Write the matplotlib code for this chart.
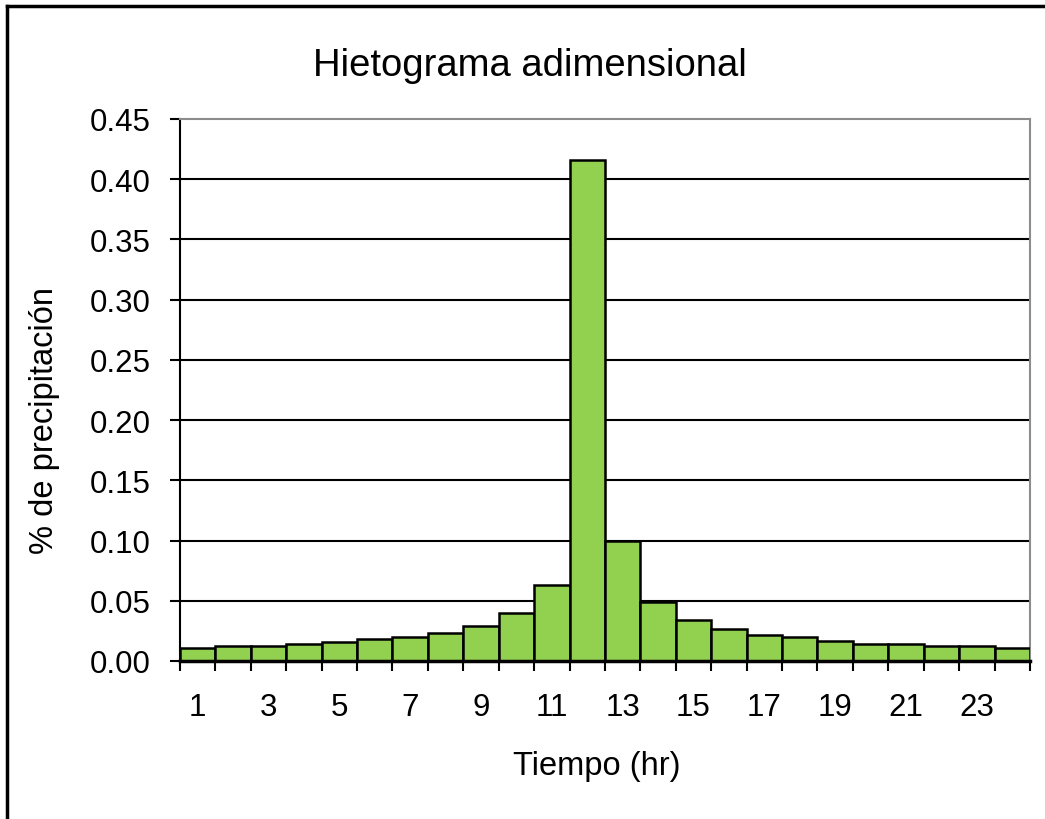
import numpy as np
import matplotlib
matplotlib.use("Agg")
import matplotlib.pyplot as plt
from matplotlib.lines import Line2D

plt.rcParams['font.family'] = ['Liberation Sans', 'DejaVu Sans']

# datos del hietograma (fraccion de la precipitacion por hora)
horas = list(range(1, 25))
precip = [0.0104, 0.0121, 0.0121, 0.0140, 0.0159, 0.0179, 0.0195, 0.0230,
          0.0288, 0.0398, 0.0634, 0.4160, 0.0996, 0.0490, 0.0343, 0.0269,
          0.0214, 0.0195, 0.0162, 0.0140, 0.0140, 0.0121, 0.0121, 0.0104]
etiquetas_x = [str(h) for h in horas if h % 2 == 1]
ticks_y = [0.00, 0.05, 0.10, 0.15, 0.20, 0.25, 0.30, 0.35, 0.40, 0.45]

fig = plt.figure(figsize=(10.45, 8.2), dpi=100)
ax = fig.add_axes([0.1722, 0.1927, 0.8134, 0.661])

ax.bar(horas, precip, width=1.0, color='#92D050', edgecolor='black',
       linewidth=1.8, zorder=3)

ax.set_xlim(0.5, 24.5)
ax.set_ylim(0, 0.45)

# lineas de cuadricula
for v in ticks_y[1:-1]:
    ax.axhline(v, color='black', linewidth=1.5, zorder=1)

ax.set_yticks(ticks_y)
ax.set_yticklabels(['%.2f' % v for v in ticks_y])
ax.set_xticks([h for h in horas if h % 2 == 1])
ax.set_xticklabels(etiquetas_x)
ax.set_xticks(np.arange(0.5, 25, 1.0), minor=True)

ax.tick_params(axis='y', direction='out', length=7, width=1.5,
               labelsize=22.5, pad=14)
ax.tick_params(axis='x', which='major', length=0, labelsize=22.5, pad=22)
ax.tick_params(axis='x', which='minor', direction='out', length=7, width=1.5)

ax.spines['left'].set_linewidth(1.5)
ax.spines['bottom'].set_linewidth(2.5)
ax.spines['bottom'].set_zorder(4)
ax.spines['top'].set_color('#8c8c8c')
ax.spines['right'].set_color('#8c8c8c')
ax.spines['top'].set_linewidth(1.5)
ax.spines['right'].set_linewidth(1.5)

ax.set_xlabel('Tiempo (hr)', fontsize=23.5)
ax.xaxis.label.set_va('center')
ax.xaxis.set_label_coords(0.49, -0.192)
ax.set_ylabel('% de precipitación', fontsize=23.5)
ax.yaxis.label.set_va('center')
ax.yaxis.set_label_coords(-0.159, 0.446)

fig.text(530 / 1045, 1 - 66 / 820, 'Hietograma adimensional',
         fontsize=27.5, ha='center', va='center')

# marco exterior del grafico
fig.add_artist(Line2D([7 / 1045, 7 / 1045], [0, 1 - 7 / 820],
                      color='black', linewidth=2.5))
fig.add_artist(Line2D([7 / 1045, 1], [1 - 7 / 820, 1 - 7 / 820],
                      color='black', linewidth=2.5))

fig.savefig('out.png', dpi=100)
